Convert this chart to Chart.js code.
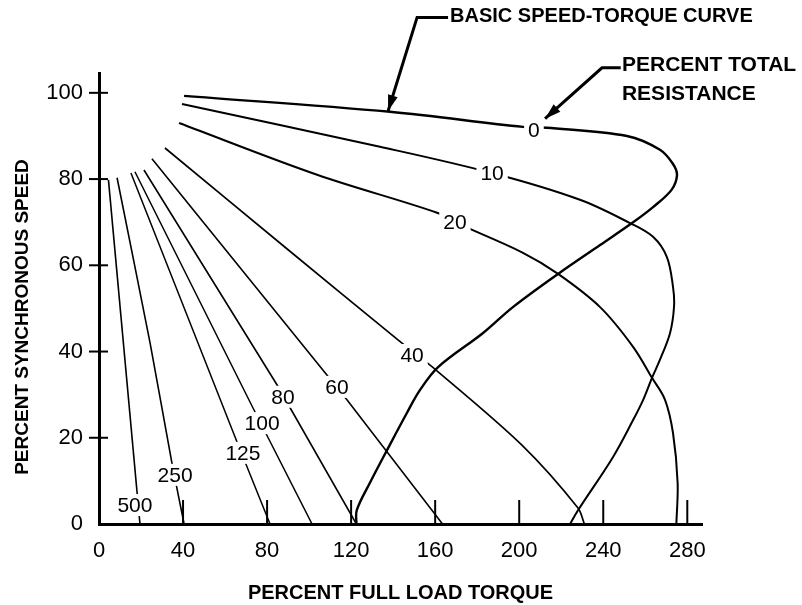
<!DOCTYPE html>
<html>
<head>
<meta charset="utf-8">
<script src="https://cdn.jsdelivr.net/npm/chart.js@4.4.1/dist/chart.umd.min.js"></script>
<style>
  html, body { margin: 0; padding: 0; background: #fff; }
  canvas { display: block; }
</style>
</head>
<body>
<canvas id="chart" width="802" height="605"></canvas>
<script>
const xTicks = [0, 40, 80, 120, 160, 200, 240, 280];
const yTicks = [0, 20, 40, 60, 80, 100];

// one curve per percent total resistance, points are [torque %, speed %]
const r0 = [[40.5, 99.3], [138.5, 95.6], [201.8, 92.1], [213.2, 91.9], [251.3, 90.0], [267, 86.8],
  [273.2, 83.5], [275.1, 80.9], [272.5, 77.5], [263.7, 73.5], [253.7, 69.8], [238.5, 64.7],
  [218.5, 58.0], [197, 50.3], [182.8, 44.3], [161.4, 36.4], [152.8, 31.1], [146.6, 25.8],
  [137.6, 17.6], [128.9, 9.5], [122.7, 3.2], [122.5, 0]];
const r10 = [[39.5, 97.4], [133.7, 87.5], [187.1, 81.4], [228.9, 75.2], [252.7, 69.8], [263.7, 66.6],
  [270.3, 61.9], [273.2, 55.0], [273.7, 50.5], [271.8, 44.3], [267, 38.1], [263.2, 33.9],
  [259, 28.8], [254.2, 24.1], [244.6, 15.5], [228, 3.2], [224.2, 0]];
const r20 = [[38.1, 93.0], [103.8, 81.0], [160.9, 72.2], [169.4, 70.0], [201.8, 62.9], [218.5, 58.0],
  [238.5, 50.3], [254.2, 41.1], [263.2, 33.9], [269.4, 28.8], [273.2, 21.1], [275.4, 9.5], [274.8, 0]];
const r40 = [[31.4, 87.2], [90, 63.6], [142.3, 42.7], [161.4, 35.3], [201.3, 18.3], [228, 3.7], [231, 0]];
const r60 = [[25.2, 84.7], [118, 28.8], [163.5, 0]];
const r80 = [[21.4, 82.1], [84.7, 32.3], [122.5, 0]];
const r100 = [[17.1, 81.7], [73.3, 26.9], [101.4, 0]];
const r125 = [[15.2, 81.4], [65.7, 19.0], [81.4, 0]];
const r250 = [[8.6, 80.3], [24.3, 42.0], [34.7, 14.2], [40.5, 0]];
const r500 = [[4.5, 79.8], [19.5, 0]];

const curveNames = ['0', '10', '20', '40', '60', '80', '100', '125', '250', '500'];
const curves = [r0, r10, r20, r40, r60, r80, r100, r125, r250, r500];
const labelX = [207, 187.1, 169.4, 149, 113.3, 87.6, 77.6, 68.5, 36.2, 17.1];
const labelY = [91.4, 81.4, 70.0, 39.2, 31.8, 29.5, 23.4, 16.5, 11.4, 4.4];

const lineWidths = [2.4, 2, 2, 1.7, 1.6, 1.6, 1.5, 1.5, 1.6, 1.6];
const tensions = [0.35, 0.35, 0.35, 0.3, 0, 0, 0, 0, 0.2, 0];

const FONT = "'Liberation Sans', Arial, Helvetica, sans-serif";

function drawArrow(ctx, pts) {
  ctx.lineWidth = 3;
  ctx.beginPath();
  ctx.moveTo(pts[0][0], pts[0][1]);
  pts.slice(1).forEach(p => ctx.lineTo(p[0], p[1]));
  ctx.stroke();
  const [ax, ay] = pts[pts.length - 2];
  const [bx, by] = pts[pts.length - 1];
  const ang = Math.atan2(by - ay, bx - ax);
  const len = 16, half = 5;
  ctx.beginPath();
  ctx.moveTo(bx, by);
  ctx.lineTo(bx - len * Math.cos(ang) + half * Math.sin(ang), by - len * Math.sin(ang) - half * Math.cos(ang));
  ctx.lineTo(bx - len * Math.cos(ang) - half * Math.sin(ang), by - len * Math.sin(ang) + half * Math.cos(ang));
  ctx.closePath();
  ctx.fill();
}

const decorations = {
  id: 'decorations',
  afterDraw(chart) {
    const { ctx, chartArea, scales: { x, y } } = chart;
    const px = v => x.getPixelForValue(v);
    const py = v => y.getPixelForValue(v);
    ctx.save();
    ctx.strokeStyle = '#000';
    ctx.fillStyle = '#000';

    // tick marks: across the y axis, upward from the x axis
    ctx.lineWidth = 2;
    yTicks.slice(1).forEach(v => {
      ctx.beginPath();
      ctx.moveTo(chartArea.left - 10, py(v));
      ctx.lineTo(chartArea.left + 9, py(v));
      ctx.stroke();
    });
    xTicks.slice(1).forEach(v => {
      ctx.beginPath();
      ctx.moveTo(px(v), chartArea.bottom + 2);
      ctx.lineTo(px(v), chartArea.bottom - 24);
      ctx.stroke();
    });

    // resistance labels sitting on the curves
    ctx.font = `21px ${FONT}`;
    ctx.textAlign = 'center';
    ctx.textBaseline = 'middle';
    curveNames.forEach((t, i) => {
      const cx = px(labelX[i]), cy = py(labelY[i]);
      const w = ctx.measureText(t).width + 8;
      ctx.fillStyle = '#fff';
      ctx.fillRect(cx - w / 2, cy - 11, w, 22);
      ctx.fillStyle = '#000';
      ctx.fillText(t, cx, cy + 1);
    });

    // callouts
    ctx.font = `bold 20px ${FONT}`;
    ctx.textAlign = 'left';
    ctx.fillText('BASIC SPEED-TORQUE CURVE', px(167.1), py(117.6));
    drawArrow(ctx, [[px(167.1) - 2, py(117.5)], [px(151.4), py(117.5)], [px(137.6), py(95.8)]]);
    ctx.font = `bold 21px ${FONT}`;
    ctx.fillText('PERCENT TOTAL', px(248.9), py(106.4));
    ctx.fillText('RESISTANCE', px(248.9), py(99.6));
    drawArrow(ctx, [[px(248.3), py(105.8)], [px(239.4), py(105.8)], [px(212.3), py(94.0)]]);

    // y axis title
    ctx.save();
    ctx.translate(23, 317);
    ctx.rotate(-Math.PI / 2);
    ctx.textAlign = 'center';
    ctx.font = `bold 19px ${FONT}`;
    ctx.fillText('PERCENT SYNCHRONOUS SPEED', 0, 0);
    ctx.restore();

    ctx.restore();
  }
};

const ctx = document.getElementById('chart').getContext('2d');
const chart = new Chart(ctx, {
  type: 'scatter',
  data: {
    datasets: curves.map((pts, i) => ({
      label: curveNames[i],
      data: pts.map(([tx, sy]) => ({ x: tx, y: sy })),
      showLine: true,
      borderColor: '#000',
      borderWidth: lineWidths[i],
      tension: tensions[i],
      pointRadius: 0,
      fill: false
    }))
  },
  options: {
    responsive: false,
    animation: false,
    layout: { padding: { top: 73, right: 100, left: 0, bottom: 0 } },
    plugins: {
      legend: { display: false },
      tooltip: { enabled: false }
    },
    scales: {
      x: {
        type: 'linear',
        min: 0,
        max: 287,
        afterBuildTicks: axis => { axis.ticks = xTicks.map(v => ({ value: v })); },
        afterFit: axis => { axis.height = 81; },
        grid: { display: false, drawTicks: false },
        border: { display: true, color: '#000', width: 3 },
        ticks: { color: '#000', font: { family: FONT, size: 22 }, padding: 14, autoSkip: false, maxRotation: 0 },
        title: {
          display: true,
          text: 'PERCENT FULL LOAD TORQUE',
          color: '#000',
          font: { family: FONT, size: 20, weight: 'bold' },
          padding: { top: 0, bottom: 0 }
        }
      },
      y: {
        type: 'linear',
        min: 0,
        max: 104.6,
        afterBuildTicks: axis => { axis.ticks = yTicks.map(v => ({ value: v })); },
        afterFit: axis => { axis.width = 99; },
        grid: { display: false, drawTicks: false },
        border: { display: true, color: '#000', width: 3 },
        ticks: { color: '#000', font: { family: FONT, size: 22 }, padding: 16 }
      }
    }
  },
  plugins: [decorations]
});
</script>
</body>
</html>
